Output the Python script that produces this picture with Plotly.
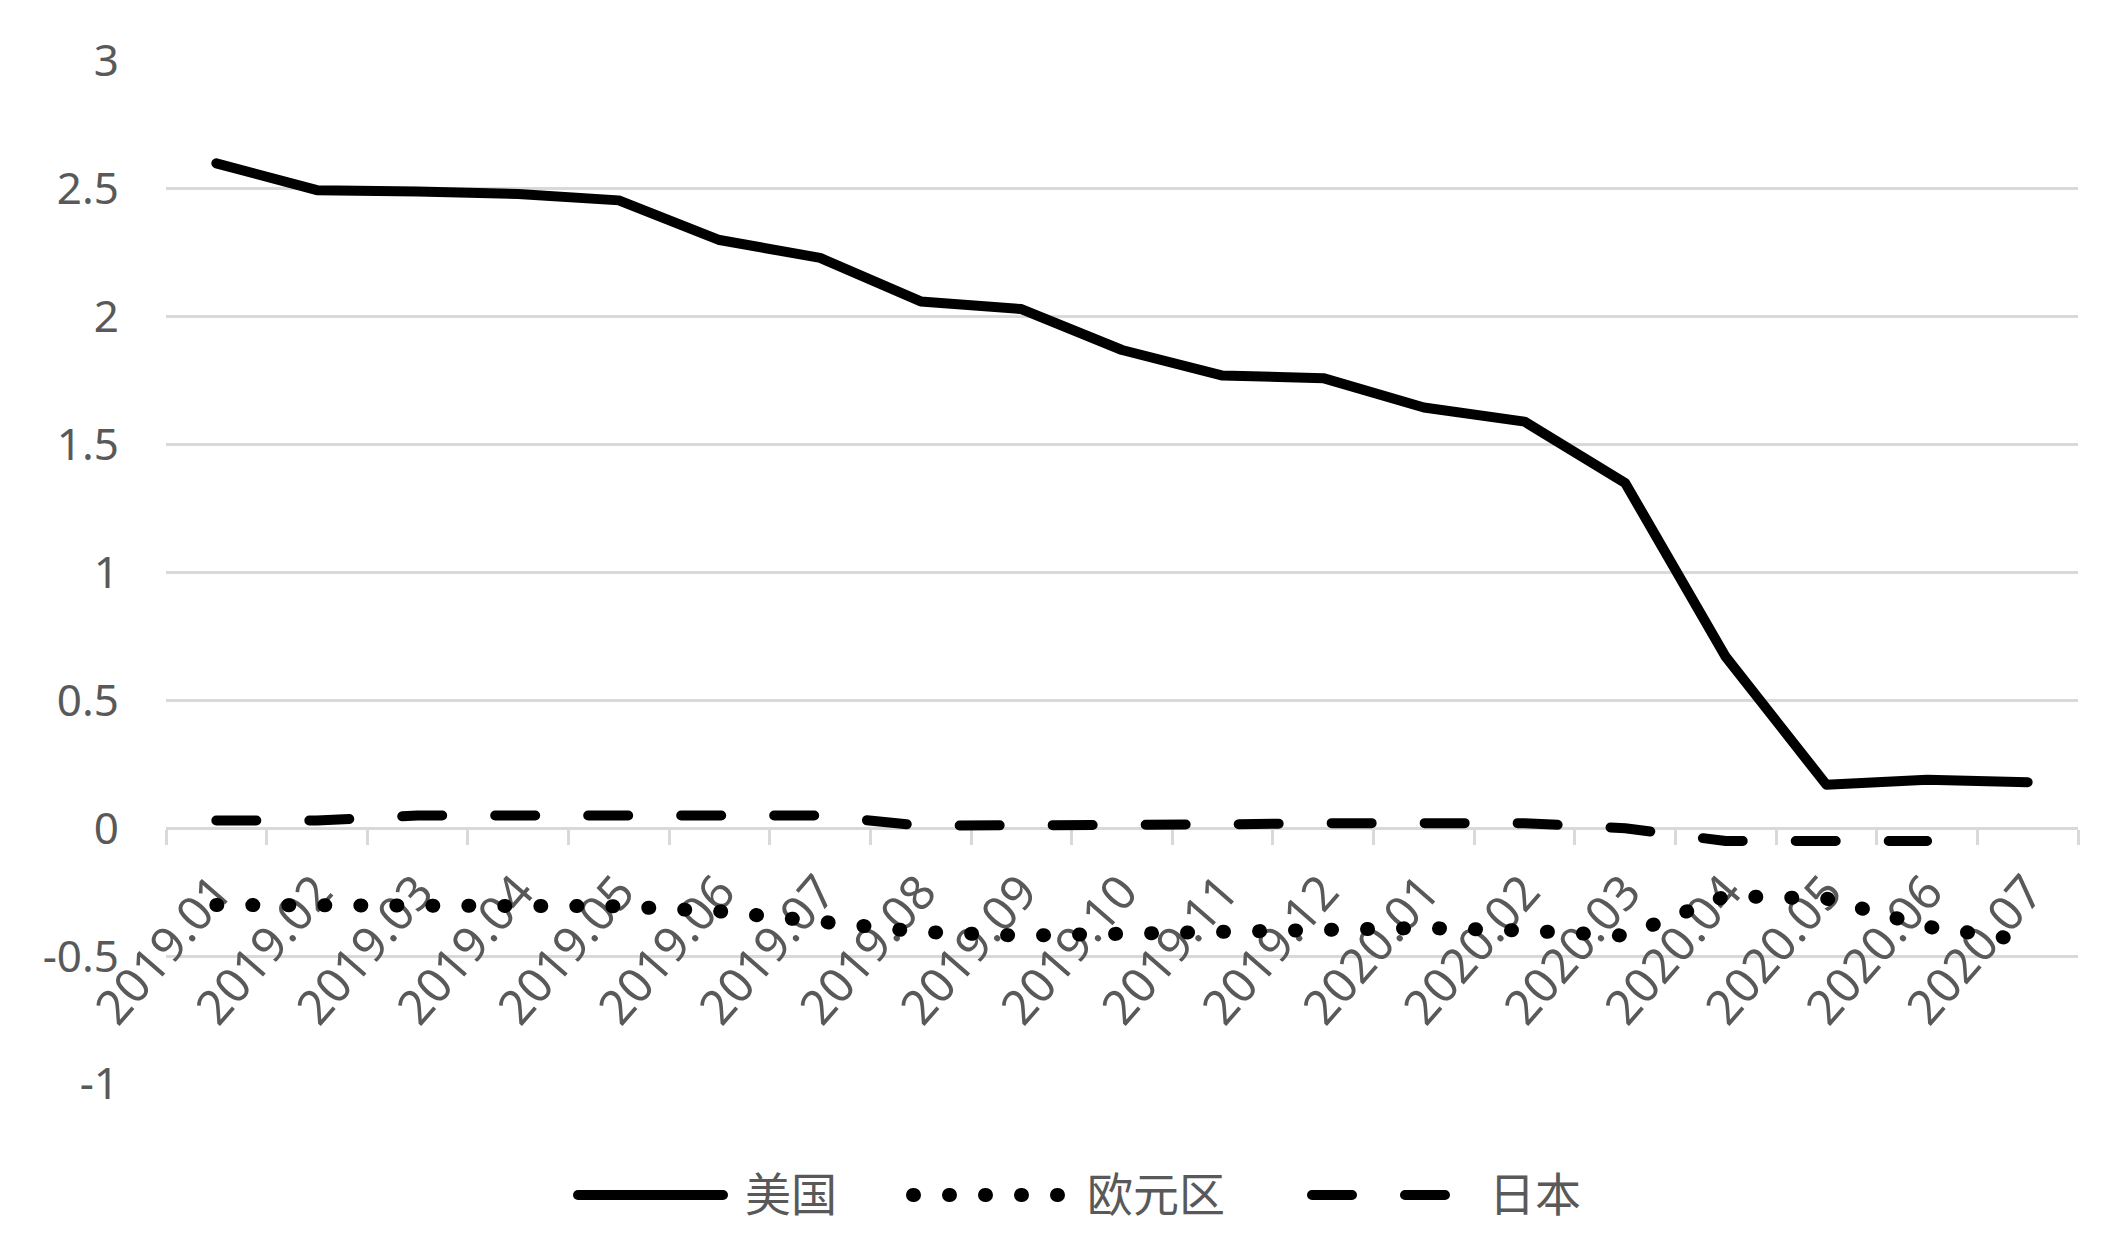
import plotly.graph_objects as go

# ---------------- data ----------------
months = ["2019.01", "2019.02", "2019.03", "2019.04", "2019.05", "2019.06", "2019.07",
          "2019.08", "2019.09", "2019.10", "2019.11", "2019.12", "2020.01", "2020.02",
          "2020.03", "2020.04", "2020.05", "2020.06", "2020.07"]
us = [2.60, 2.495, 2.49, 2.48, 2.455, 2.30, 2.23, 2.06, 2.03, 1.87, 1.77, 1.76,
      1.645, 1.59, 1.35, 0.67, 0.17, 0.19, 0.18]
euro = [-0.30, -0.30, -0.30, -0.30, -0.305, -0.325, -0.36, -0.405, -0.42, -0.415, -0.41,
        -0.40, -0.39, -0.40, -0.42, -0.265, -0.275, -0.385, -0.44]
japan = [0.03, 0.03, 0.05, 0.05, 0.05, 0.05, 0.05, 0.01, 0.01, 0.01, 0.015, 0.02,
         0.02, 0.02, 0.0, -0.05, -0.05, -0.05, None]
series_names = ["美国", "欧元区", "日本"]
y_tick_vals = [3, 2.5, 2, 1.5, 1, 0.5, 0, -0.5, -1]
y_tick_text = ["3", "2.5", "2", "1.5", "1", "0.5", "0", "-0.5", "-1"]

# ---------------- layout constants ----------------
W, H = 2117, 1241
ML, MR, MT, MB = 166, 39, 61, 157
YMIN, YMAX = -1, 3
GRAY = "#d9d9d9"
TXT = "#595959"
FONT = "Noto Sans, Noto Sans CJK SC, sans-serif"

US_STYLE = dict(color="black", width=10)
EU_STYLE = dict(color="black", width=14, dash="1px,35px")
JP_STYLE = dict(color="black", width=10, dash="40px,53px")

fig = go.Figure()
fig.add_trace(go.Scatter(x=months, y=us, name=series_names[0], mode="lines",
                         line=US_STYLE, showlegend=False))
fig.add_trace(go.Scatter(x=months, y=euro, name=series_names[1], mode="lines",
                         line=EU_STYLE, showlegend=False))
fig.add_trace(go.Scatter(x=months, y=japan, name=series_names[2], mode="lines",
                         line=JP_STYLE, showlegend=False, connectgaps=False))

zero_pos = (0 - YMIN) / (YMAX - YMIN)

fig.update_layout(
    width=W, height=H, autosize=False,
    margin=dict(l=ML, r=MR, t=MT, b=MB),
    paper_bgcolor="white", plot_bgcolor="white",
    font=dict(family=FONT, color=TXT),
    showlegend=False,
    xaxis=dict(
        type="category", categoryorder="array", categoryarray=months,
        range=[-0.5, len(months) - 0.5],
        anchor="free", position=zero_pos,
        showgrid=False, zeroline=False,
        showline=True, linecolor=GRAY, linewidth=3,
        ticks="outside", tickson="boundaries", ticklen=15, tickwidth=3, tickcolor=GRAY,
        tickangle=-49, tickfont=dict(size=48, color=TXT, family=FONT),
        ticklabelstandoff=14,
        layer="below traces",
    ),
    yaxis=dict(
        range=[YMIN, YMAX],
        tickvals=y_tick_vals, ticktext=y_tick_text,
        showgrid=True, gridcolor=GRAY, gridwidth=3,
        zeroline=False, showline=False, ticks="",
        tickfont=dict(size=44, color=TXT, family=FONT),
        ticklabelstandoff=46,
    ),
)

# ---------------- custom legend (long line samples like the original) ----------------
pw = W - ML - MR
ph = H - MT - MB


def px_x(px):
    return (px - ML) / pw


def px_y(py):
    return (H - MB - py) / ph


LEG_Y = 1195
legend_items = [
    (578, 723, US_STYLE, 743, series_names[0]),
    (913, 1062, EU_STYLE, 1085, series_names[1]),
    (1312, 1447, JP_STYLE, 1487, series_names[2]),
]
for x0, x1, style, tx, label in legend_items:
    fig.add_shape(type="line", xref="paper", yref="paper",
                  x0=px_x(x0), x1=px_x(x1), y0=px_y(LEG_Y), y1=px_y(LEG_Y),
                  line=style, layer="above")
    fig.add_annotation(text=label, xref="paper", yref="paper",
                       x=px_x(tx), y=px_y(LEG_Y - 4), xanchor="left", yanchor="middle",
                       showarrow=False,
                       font=dict(size=46, color=TXT, family="Noto Sans CJK SC, sans-serif"))

js = """
document.body.style.margin = '0';
document.body.style.overflow = 'hidden';
var gd = document.getElementById('{plot_id}');
gd.querySelectorAll('path.js-line, .shapelayer path').forEach(function(p){
  p.style.strokeLinecap = 'round';
  p.style.strokeLinejoin = 'round';
});
"""

fig.write_html("out.html", post_script=js, config={"displayModeBar": False})
